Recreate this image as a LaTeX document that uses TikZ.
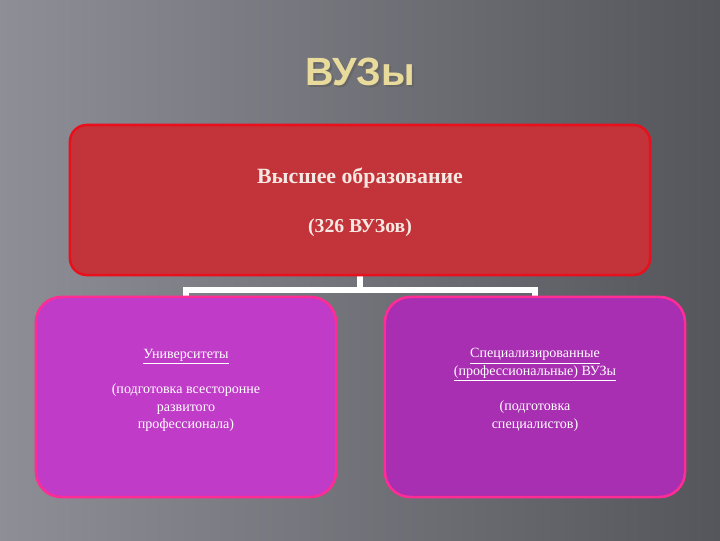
\documentclass[tikz,border=0pt]{standalone}
\usepackage{fontspec}
\setmainfont{Liberation Serif}
\newfontfamily\titlefont{Liberation Sans}
\usetikzlibrary{positioning}

\definecolor{bgLight}{HTML}{8E8E96}
\definecolor{bgDark}{HTML}{55555C}
\definecolor{titleCol}{HTML}{E9DB9C}
\definecolor{topFill}{HTML}{C2343A}
\definecolor{topLine}{HTML}{E8101C}
\definecolor{topText}{HTML}{F6E8E2}
\definecolor{leftFill}{HTML}{C03CC8}
\definecolor{rightFill}{HTML}{A82EB2}
\definecolor{boxLine}{HTML}{FF2C96}

\pgfdeclarelayer{bglayer}
\pgfdeclarelayer{connlayer}
\pgfsetlayers{bglayer,connlayer,main}

\begin{document}
\begin{tikzpicture}[x=0.025cm, y=-0.025cm,
    mainbox/.style={rectangle, rounded corners=12pt, draw=topLine, line width=1.8pt,
      fill=topFill, minimum width=14.5cm, minimum height=3.75cm},
    subbox/.style={rectangle, rounded corners=18pt, draw=boxLine, line width=1.8pt,
      minimum width=7.5cm, minimum height=5cm},
    toplabel/.style={text=topText, font=\bfseries\fontsize{15.5}{19}\selectfont},
    sublabel/.style={text=white, align=center, font=\fontsize{10}{12.5}\selectfont},
    conn/.style={draw=white, line width=4pt}]
  % Background
  \begin{pgfonlayer}{bglayer}
    \shade[left color=bgLight, right color=bgDark] (0,0) rectangle (720,540);
  \end{pgfonlayer}
  \useasboundingbox (0,0) rectangle (720,540);

  % Title
  \node (titleshadow) at (362,74) [text=black!60, font=\titlefont\bfseries\fontsize{28}{30}\selectfont] {ВУЗы};
  \node (title) at (360,72) [text=titleCol, font=\titlefont\bfseries\fontsize{28}{30}\selectfont] {ВУЗы};

  % Boxes
  \node (top) at (360,200) [mainbox] {};
  \node (left) at (186,397) [subbox, fill=leftFill] {};
  \node (right) at (535,397) [subbox, fill=rightFill] {};

  % Texts
  \node (toptext) at (360,178) [toplabel] {Высшее образование};
  \node (topnum) at (360,228) [toplabel, font=\bfseries\fontsize{14}{17}\selectfont] {(326 ВУЗов)};
  \node (lefthead) at (186,357) [sublabel] {\underline{Университеты}};
  \node (leftnote) at (186,408) [sublabel]
    {(подготовка всесторонне\\развитого\\профессионала)};
  \node (righthead) at (535,365) [sublabel]
    {\underline{Специализированные}\\\underline{(профессиональные) ВУЗы}};
  \node (rightnote) at (535,416) [sublabel] {(подготовка\\специалистов)};

  % Connectors
  \coordinate (fork) at (360,290);
  \begin{pgfonlayer}{connlayer}
    \draw[conn] (top.south) -- (fork);
    \draw[conn] (left.north) |- (fork) -| (right.north);
  \end{pgfonlayer}
\end{tikzpicture}
\end{document}
